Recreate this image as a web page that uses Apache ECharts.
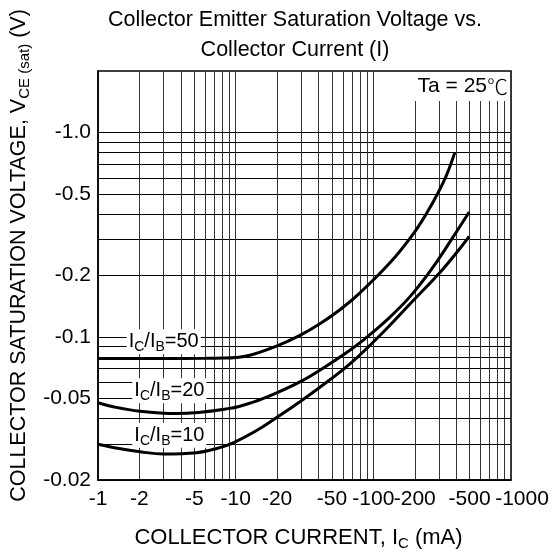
<!DOCTYPE html>
<html>
<head>
<meta charset="utf-8">
<script src="https://cdn.jsdelivr.net/npm/echarts@6/dist/echarts.min.js"></script>
<style>
  html, body { margin: 0; padding: 0; background: #fff; }
  #chart { width: 554px; height: 557px; }
</style>
</head>
<body>
<div id="chart"></div>
<script>
// axis values (mA and V, drawn as negatives)
var xLabelValues = [1, 2, 5, 10, 20, 50, 100, 200, 500, 1000];
var xGridValues = [1, 2, 3, 4, 5, 6, 7, 8, 9, 10, 20, 30, 40, 50, 60, 70, 80, 90, 100, 200, 300, 400, 500, 600, 700, 800, 900, 1000];
var yLabelValues = [0.02, 0.05, 0.1, 0.2, 0.5, 1];
var yGridValues = [0.02, 0.03, 0.04, 0.05, 0.06, 0.07, 0.08, 0.09, 0.1, 0.2, 0.3, 0.4, 0.5, 0.6, 0.7, 0.8, 0.9, 1];

// IC/IB = 50
var ic50 = [1, 3, 6, 8, 10, 12.7, 20, 29.3, 40.9, 57.2, 80, 132, 194, 245, 294, 342, 391];
var vce50 = [0.0786, 0.0786, 0.0787, 0.0789, 0.0795, 0.0815, 0.0906, 0.1019, 0.1161, 0.136, 0.1646, 0.2307, 0.318, 0.405, 0.505, 0.625, 0.80];
// IC/IB = 20
var ic20 = [1, 1.29, 2.02, 3.73, 9.09, 13.4, 19.85, 29.3, 40.9, 67.6, 84.5, 125, 184, 272, 380, 497];
var vce20 = [0.0477, 0.0456, 0.0434, 0.0423, 0.0448, 0.0481, 0.0534, 0.0604, 0.0689, 0.0863, 0.0966, 0.121, 0.1572, 0.2204, 0.309, 0.409];
// IC/IB = 10
var ic10 = [1, 1.42, 2.02, 2.98, 5.21, 7.28, 9.6, 13.8, 19.85, 29.3, 40.9, 67.6, 111.6, 195, 304.6, 425.6, 497];
var vce10 = [0.0299, 0.0285, 0.0275, 0.0268, 0.0272, 0.0285, 0.0304, 0.0345, 0.0404, 0.0483, 0.0568, 0.0739, 0.1018, 0.151, 0.2069, 0.271, 0.3106];

var ratioNames = ['50', '20', '10'];
var labelAt = [[3.0, 0.0948], [3.3, 0.0547], [3.3, 0.0331]];

var fontName = "'Liberation Sans', Arial, sans-serif";

function pairs(xs, ys) {
  return xs.map(function (x, i) { return [x, ys[i]]; });
}

function curve(xs, ys, idx) {
  return {
    type: 'line',
    data: pairs(xs, ys),
    smooth: 0.4,
    symbol: 'none',
    lineStyle: { color: '#000', width: 3 },
    markPoint: {
      symbol: 'rect',
      symbolSize: 0,
      data: [{ coord: labelAt[idx] }],
      label: {
        show: true,
        position: 'inside',
        backgroundColor: '#fff',
        padding: [0, 2],
        formatter: '{a|I}{s|C}{a|/I}{s|B}{a|=' + ratioNames[idx] + '}',
        rich: {
          a: { fontSize: 20, color: '#000', fontFamily: fontName, lineHeight: 25 },
          s: { fontSize: 14, color: '#000', fontFamily: fontName, verticalAlign: 'bottom', lineHeight: 16 }
        }
      }
    }
  };
}

var chart = echarts.init(document.getElementById('chart'));
var option = {
  animation: false,
  backgroundColor: '#fff',
  textStyle: { fontFamily: fontName, color: '#000' },
  title: {
    text: 'Collector Emitter Saturation Voltage vs.\nCollector Current (I)',
    left: 295,
    top: 5,
    padding: 0,
    textAlign: 'center',
    textStyle: { fontSize: 21.5, fontWeight: 'normal', color: '#000', lineHeight: 30, fontFamily: fontName }
  },
  grid: {
    left: 98, right: 43, top: 71, bottom: 77,
    show: true, borderColor: '#000', borderWidth: 1.5
  },
  xAxis: {
    type: 'log',
    logBase: 10,
    min: 1,
    max: 1000,
    name: '{a|COLLECTOR CURRENT, I}{s|C}{a| (mA)}',
    nameLocation: 'middle',
    nameGap: 45,
    nameTextStyle: {
      padding: [0, 12, 0, 0],
      rich: {
        a: { fontSize: 22, color: '#000', fontFamily: fontName, lineHeight: 26 },
        s: { fontSize: 15, color: '#000', fontFamily: fontName, verticalAlign: 'bottom', lineHeight: 19 }
      }
    },
    axisLine: { show: true, onZero: false, lineStyle: { color: '#000', width: 1.5 } },
    axisTick: { show: false, customValues: xGridValues },
    axisLabel: {
      customValues: xLabelValues,
      fontSize: 21,
      color: '#000',
      margin: 9,
      formatter: function (v) {
        var n = Math.round(v);
        if (n === 1000) return '{r|-1000}';
        return '-' + n;
      },
      rich: { r: { fontSize: 21, color: '#000', fontFamily: fontName, padding: [0, 0, 0, 22] } }
    },
    splitLine: { show: true, lineStyle: { color: '#333', width: 1 } }
  },
  yAxis: {
    type: 'log',
    logBase: 10,
    min: 0.02,
    max: 2,
    name: '{a|COLLECTOR SATURATION VOLTAGE, V}{s|CE (sat)}{a| (V)}',
    nameLocation: 'middle',
    nameGap: 66,
    nameRotate: 90,
    nameTextStyle: {
      padding: [0, 0, 0, 40],
      rich: {
        a: { fontSize: 21.5, color: '#000', fontFamily: fontName, lineHeight: 25 },
        s: { fontSize: 15, color: '#000', fontFamily: fontName, verticalAlign: 'bottom', lineHeight: 19 }
      }
    },
    axisLine: { show: true, lineStyle: { color: '#000', width: 1.5 } },
    axisTick: { show: false, customValues: yGridValues },
    axisLabel: {
      customValues: yLabelValues,
      fontSize: 21,
      color: '#000',
      margin: 7,
      formatter: function (v) {
        var n = Number(v.toPrecision(3));
        if (n === 1) return '-1.0';
        return '-' + n;
      }
    },
    splitLine: { show: true, lineStyle: { color: '#000', width: 1 } }
  },
  graphic: [
    {
      type: 'rect',
      z: 50,
      shape: { x: 400, y: 72, width: 110, height: 29 },
      style: { fill: '#fff' }
    },
    {
      type: 'text',
      z: 51,
      x: 508,
      y: 86,
      style: {
        text: '{a|Ta = 25}{c|℃}',
        textAlign: 'right',
        textVerticalAlign: 'middle',
        rich: {
          a: { fontSize: 21, fill: '#000', fontFamily: fontName },
          c: { fontSize: 21, fill: '#000', fontFamily: "'Noto Sans CJK JP', sans-serif", fontWeight: 300 }
        }
      }
    }
  ],
  series: [
    curve(ic50, vce50, 0),
    curve(ic20, vce20, 1),
    curve(ic10, vce10, 2)
  ]
};
chart.setOption(option);
</script>
</body>
</html>
